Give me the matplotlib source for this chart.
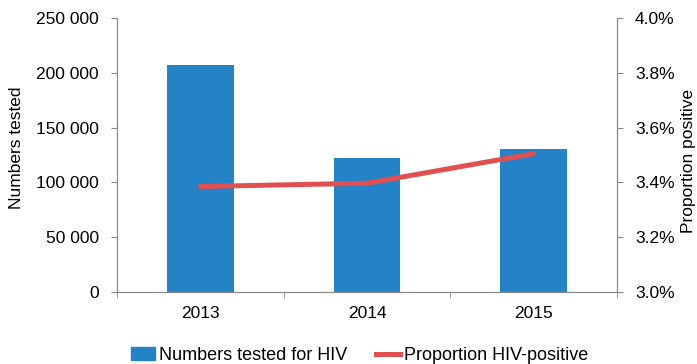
import matplotlib.pyplot as plt
from matplotlib.ticker import FuncFormatter, FixedLocator
from matplotlib.patches import Patch
from matplotlib.lines import Line2D

plt.rcParams['font.family'] = ['Liberation Sans', 'DejaVu Sans']

years = ['2013', '2014', '2015']
numbers_tested = [207000, 122000, 130500]
proportion_positive = [3.385, 3.397, 3.505]

bar_color = '#2383c6'
line_color = '#e05050'
spine_color = '#888888'

fig = plt.figure(figsize=(6.97, 3.64), dpi=100)
ax = fig.add_axes([117 / 697, (364 - 292) / 364, 500 / 697, 274 / 364])
ax2 = ax.twinx()

x = range(len(years))
ax.bar(x, numbers_tested, width=0.4, color=bar_color, zorder=2)
ax2.plot(x, proportion_positive, color=line_color, lw=3.6, solid_capstyle='round', zorder=3)

ax.set_xlim(-0.5, 2.5)
ax.set_ylim(0, 250000)
ax.set_yticks(range(0, 250001, 50000))
ax.yaxis.set_major_formatter(FuncFormatter(lambda v, p: f'{int(v):,}'.replace(',', ' ')))
ax.set_xticks(list(x))
ax.set_xticklabels(years)
ax.xaxis.set_minor_locator(FixedLocator([-0.5, 0.5, 1.5, 2.5]))
ax.tick_params(axis='x', which='major', length=0, labelsize=12.5, pad=10)
ax.tick_params(axis='x', which='minor', length=4, color=spine_color, direction='out')
ax.tick_params(axis='y', length=4, color=spine_color, labelsize=12.5, direction='out', pad=9)
ax.set_ylabel('Numbers tested', fontsize=12.5)
ax.yaxis.set_label_coords(-0.186, 0.526)

ax2.set_ylim(3.0, 4.0)
ax2.set_yticks([3.0, 3.2, 3.4, 3.6, 3.8, 4.0])
ax2.yaxis.set_major_formatter(FuncFormatter(lambda v, p: f'{v:.1f}%'))
ax2.tick_params(axis='y', length=4, color=spine_color, labelsize=12.5, direction='out', pad=9)
ax2.set_ylabel('Proportion positive', fontsize=12.5)
ax2.yaxis.set_label_coords(1.128, 0.478)

for a in (ax, ax2):
    a.spines['top'].set_visible(False)
    for s in ('left', 'right', 'bottom'):
        a.spines[s].set_color(spine_color)

handles = [Patch(color=bar_color), Line2D([0], [0], color=line_color, lw=3.6)]
labels = ['Numbers tested for HIV', 'Proportion HIV-positive']
fig.legend(handles, labels, loc='lower center', bbox_to_anchor=(0.516, -0.045), ncol=2,
           frameon=False, fontsize=13, handlelength=1.33, handletextpad=0.22, columnspacing=1.55)

fig.savefig('out.png', dpi=100)
